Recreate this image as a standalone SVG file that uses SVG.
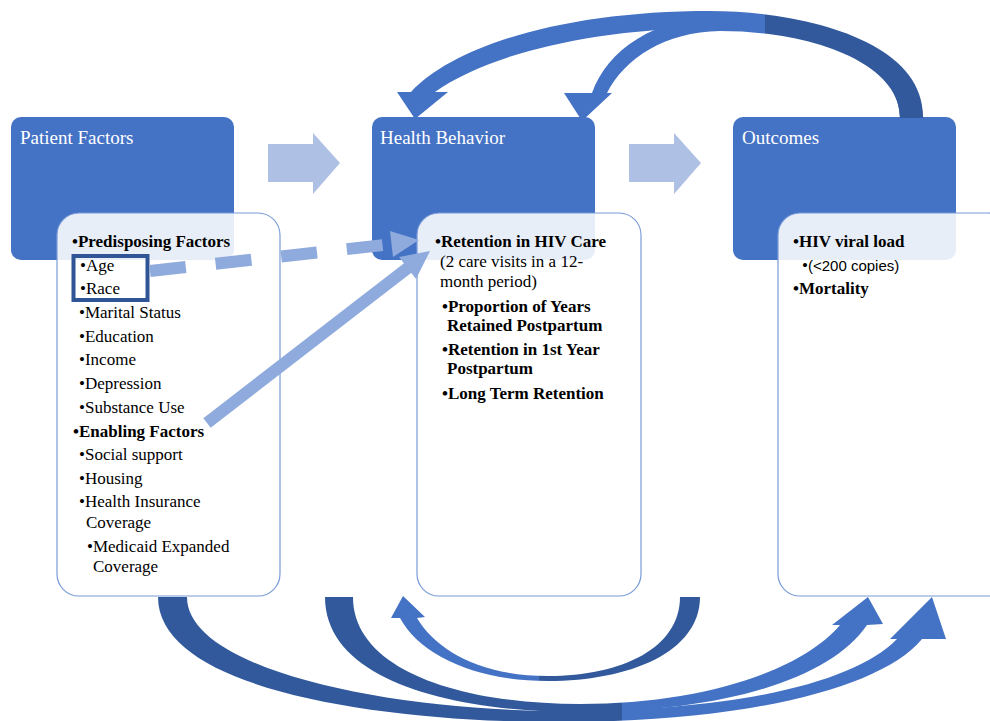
<svg xmlns="http://www.w3.org/2000/svg" width="990" height="721" viewBox="0 0 990 721">
<style>
.blue{fill:#4472C4}
.white{fill:#ffffff;fill-opacity:0.88;stroke:#7A9CD8;stroke-width:1.2}
.title{font-family:"Liberation Serif","Times New Roman",serif;font-size:19px;fill:#ffffff}
.t{font-family:"Liberation Serif","Times New Roman",serif;font-size:17px;fill:#000}
.b{font-weight:bold}
.sans{font-family:"Liberation Sans",Arial,sans-serif;font-size:15px}
.block{fill:#AFC0E5}
.light{fill:#8FAADC}
</style>
<defs>
<linearGradient id="gTop" gradientUnits="userSpaceOnUse" x1="380" y1="0" x2="930" y2="0">
<stop offset="0.7" stop-color="#4472C4"/><stop offset="0.7" stop-color="#31599C"/>
</linearGradient>
<linearGradient id="gBot" gradientUnits="userSpaceOnUse" x1="150" y1="0" x2="950" y2="0">
<stop offset="0.59" stop-color="#31599C"/><stop offset="0.59" stop-color="#4472C4"/>
</linearGradient>
<linearGradient id="gU" gradientUnits="userSpaceOnUse" x1="390" y1="0" x2="700" y2="0">
<stop offset="0.48" stop-color="#4472C4"/><stop offset="0.48" stop-color="#31599C"/>
</linearGradient>
</defs>

<g id="patient-factors">
<rect class="blue" x="11" y="117" width="223" height="143" rx="10"/>
<text class="title" x="20" y="144">Patient Factors</text>
<rect class="white" x="57" y="213" width="223" height="383" rx="22"/>
<rect x="73.5" y="256" width="74" height="44" fill="none" stroke="#2F5597" stroke-width="4"/>
<text class="t b" x="72" y="247">•Predisposing Factors</text>
<text class="t" x="80" y="271">•Age</text>
<text class="t" x="80" y="294">•Race</text>
<text class="t" x="79" y="318">•Marital Status</text>
<text class="t" x="79" y="342">•Education</text>
<text class="t" x="79" y="365">•Income</text>
<text class="t" x="79" y="389">•Depression</text>
<text class="t" x="79" y="413">•Substance Use</text>
<text class="t b" x="73" y="437">•Enabling Factors</text>
<text class="t" x="79" y="460">•Social support</text>
<text class="t" x="79" y="484">•Housing</text>
<text class="t" x="79" y="507">•Health Insurance</text>
<text class="t" x="86" y="528">Coverage</text>
<text class="t" x="87" y="552">•Medicaid Expanded</text>
<text class="t" x="93" y="572">Coverage</text>
</g>

<g id="health-behavior">
<rect class="blue" x="372" y="117" width="223" height="143" rx="10"/>
<text class="title" x="380" y="144">Health Behavior</text>
<rect class="white" x="417" y="213" width="224" height="383" rx="22"/>
<text class="t b" x="435" y="247">•Retention in HIV Care</text>
<text class="t" x="440" y="267">(2 care visits in a 12-</text>
<text class="t" x="440" y="287">month period)</text>
<text class="t b" x="442" y="312">•Proportion of Years</text>
<text class="t b" x="447" y="331">Retained Postpartum</text>
<text class="t b" x="442" y="355">•Retention in 1st Year</text>
<text class="t b" x="447" y="374">Postpartum</text>
<text class="t b" x="442" y="399">•Long Term Retention</text>
</g>

<g id="outcomes">
<rect class="blue" x="733" y="117" width="223" height="143" rx="10"/>
<text class="title" x="742" y="144">Outcomes</text>
<rect class="white" x="778" y="213" width="232" height="383" rx="22"/>
<text class="t b" x="793" y="247">•HIV viral load</text>
<text class="t" x="802" y="271">•<tspan class="sans">(&lt;200 copies)</tspan></text>
<text class="t b" x="793" y="294">•Mortality</text>
</g>

<g id="connectors">
<path class="block" d="M268,144 H313 V133 L340,163 L313,194 V182 H268 Z"/>
<path class="block" d="M629,144 H674 V133 L701,163 L674,194 V182 H629 Z"/>

<path fill="url(#gTop)" d="M923,118 C925,40 800,11 710,11 C565,11 455,45 411,92 L397,92 L415,119 L448,92 L435,92 C482,58 582,29 710,28 C800,28 900,55 900,118 Z"/>
<path fill="url(#gTop)" d="M923,118 C923,55 830,17 720,17 C655,17 607,50 592,93 L564,93 L582,121 L612,93 L607,93 C625,58 665,32 720,31 C810,31 900,62 900,118 Z"/>

<path fill="url(#gBot)" d="M158,597 C158,690 380,722 560,722 C740,722 880,690 922,639 L946,639 L932,597 L890,639 L897,639 C855,682 740,711 560,711 C390,711 187,670 187,597 Z"/>
<path fill="url(#gBot)" d="M325,597 C325,680 450,712 580,712 C720,712 830,680 867,625 L883,624 L868,597 L832,625 L840,625 C800,672 700,704 580,704 C460,704 353,670 353,597 Z"/>
<path fill="url(#gU)" d="M700,597 C700,652 630,681 548,681 C475,681 420,655 400,618 L391,618 L403,596 L425,617 L417,618 C436,650 480,676 548,676 C622,676 680,648 680,597 Z"/>

<line x1="150" y1="271" x2="393" y2="244" stroke="#8FAADC" stroke-width="12" stroke-dasharray="36 30"/>
<path class="light" d="M390,231 L419,240 L393,257 Z"/>
<line x1="207" y1="423" x2="409" y2="267" stroke="#8FAADC" stroke-width="12"/>
<path class="light" d="M399,257 L430,251 L416,279 Z"/>
</g>
</svg>
